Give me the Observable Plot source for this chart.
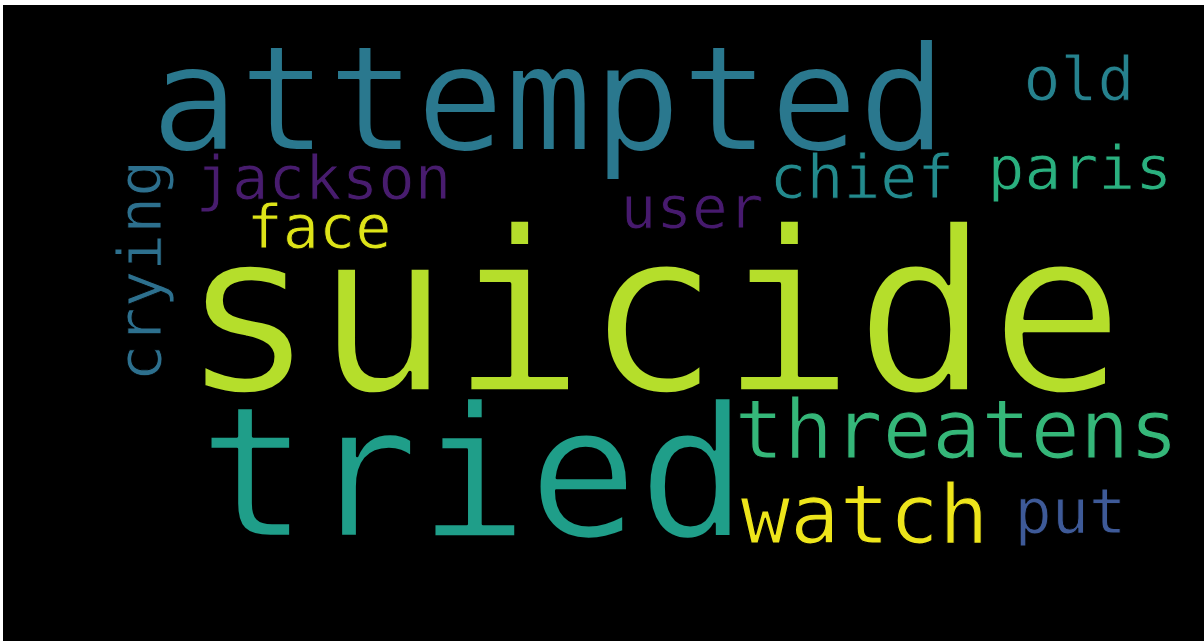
<!DOCTYPE html>
<html>
<head>
<meta charset="utf-8">
<script src="https://cdn.jsdelivr.net/npm/d3@7"></script>
<script src="https://cdn.jsdelivr.net/npm/@observablehq/plot@0.6"></script>
<style>
  html, body { margin: 0; padding: 0; background: #ffffff; }
  #chart { position: absolute; left: 3px; top: 5px; }
</style>
</head>
<body>
<div id="chart"></div>
<script>
// Word cloud data: words and their relative weights (largest = 1)
const words   = ["suicide", "tried", "attempted", "threatens", "watch", "put", "old", "chief", "paris", "jackson", "user", "face", "crying"];
const weights = [1.0, 0.815, 0.656, 0.366, 0.368, 0.276, 0.274, 0.274, 0.274, 0.271, 0.265, 0.269, 0.274];

// Layout (word cloud placement) and styling
const layoutX   = [177, 195, 147, 731, 737, 1011, 1020, 766, 984, 192, 617, 243, 157];
const layoutY   = [385, 530, 144, 452, 537, 527, 94, 192, 183, 193, 222, 242, 376];
const rotations = [0, 0, 0, 0, 0, 0, 0, 0, 0, 0, 0, 0, -90];
const colors    = ["#b5de2b", "#1f9e89", "#2a788e", "#35b779", "#ede51b", "#3e5a98", "#26828e", "#238a8d", "#2ab07f", "#481c6e", "#471a6e", "#dde318", "#2d708e"];

const maxFont = 224;

const data = words.map((w, i) => ({
  word: w,
  weight: weights[i],
  x: layoutX[i],
  y: layoutY[i],
  r: rotations[i],
  color: colors[i]
}));

const chart = Plot.plot({
  width: 1201,
  height: 636,
  margin: 0,
  style: { background: "#000000" },
  x: { type: "identity", axis: null },
  y: { type: "identity", axis: null },
  marks: [
    Plot.text(data, {
      x: "x",
      y: "y",
      text: "word",
      fill: "color",
      stroke: "#000000",
      strokeWidth: d => d.weight * maxFont * 0.015,
      paintOrder: "fill",
      rotate: "r",
      fontSize: d => d.weight * maxFont,
      fontFamily: "DejaVu Sans Mono",
      textAnchor: "start",
      lineAnchor: "bottom"
    })
  ]
});
document.getElementById("chart").appendChild(chart);
</script>
</body>
</html>
